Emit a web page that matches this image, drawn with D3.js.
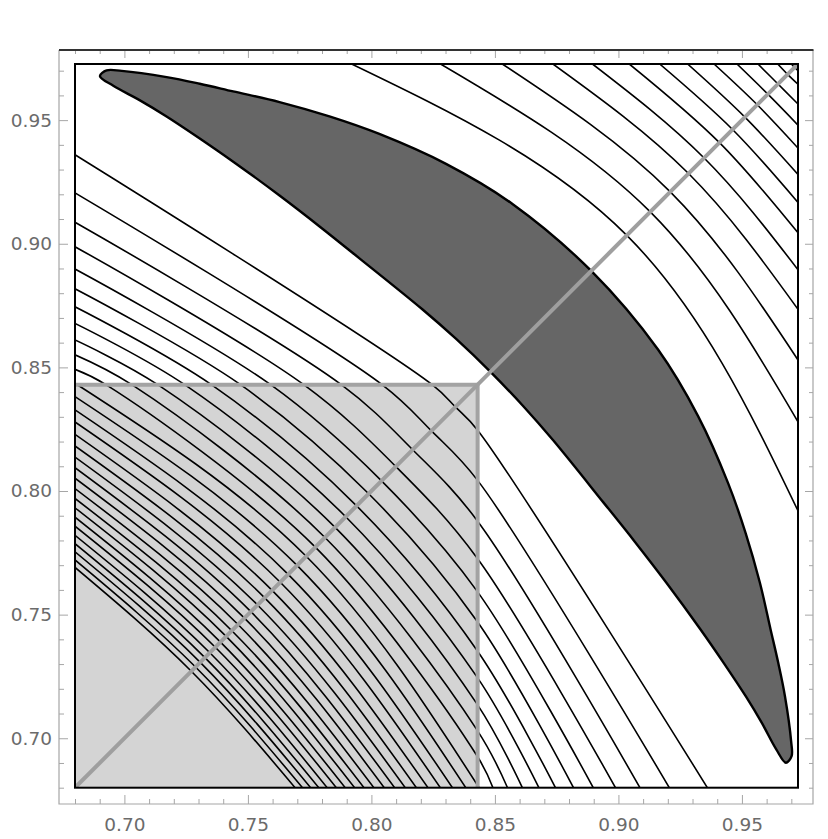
<!DOCTYPE html>
<html>
<head>
<meta charset="utf-8">
<script src="https://cdn.jsdelivr.net/npm/d3@7"></script>
<style>
  body { margin: 0; background: #fff; }
  text { font-family: "DejaVu Sans", sans-serif; }
</style>
</head>
<body>
<div id="viz"></div>
<script>
// plot range (same on both axes)
var lo = 0.68, hi = 0.9727
var majorTicks = [0.70, 0.75, 0.80, 0.85, 0.90, 0.95]
var minorTicks = [0.68, 0.69, 0.71, 0.72, 0.73, 0.74, 0.76, 0.77, 0.78, 0.79,
                  0.81, 0.82, 0.83, 0.84, 0.86, 0.87, 0.88, 0.89, 0.91, 0.92,
                  0.93, 0.94, 0.96, 0.97]

// light gray square corner
var cut = 0.843

// contours below the dark band: value on left edge (= value on bottom edge), crossing on the diagonal
var lowEdge = [0.9360, 0.9206, 0.9087, 0.8988, 0.8898, 0.8818, 0.8745, 0.8678, 0.8611, 0.8551,
               0.8492, 0.8436, 0.8382, 0.8328, 0.8279, 0.8229, 0.8182, 0.8137, 0.8094, 0.8052,
               0.8010, 0.7970, 0.7932, 0.7894, 0.7858, 0.7821, 0.7787, 0.7754, 0.7721, 0.7691]
var lowDiag = [0.8340, 0.8243, 0.8167, 0.8099, 0.8041, 0.7989, 0.7940, 0.7896, 0.7853, 0.7812,
               0.7773, 0.7736, 0.7699, 0.7663, 0.7631, 0.7598, 0.7568, 0.7539, 0.7512, 0.7486,
               0.7460, 0.7435, 0.7412, 0.7389, 0.7368, 0.7346, 0.7326, 0.7307, 0.7288, 0.7271]
// where the first ones cross the top of the gray square
var lowCut = [0.8246, 0.8043, 0.7878, 0.7726, 0.7592, 0.7470, 0.7352, 0.7244, 0.7135, 0.7030, 0.6925]

// contours beyond the band: value on top edge (= value on right edge), crossing on the diagonal
var upEdge = [0.792, 0.828, 0.853, 0.8735, 0.8895, 0.9044, 0.9167, 0.928, 0.9387, 0.948, 0.9565, 0.9645, 0.970]
var upDiag = [0.9034, 0.9129, 0.9210, 0.9284, 0.9347, 0.9409, 0.9462, 0.9512, 0.9562, 0.9605, 0.9646, 0.9685, 0.9713]

// dark band, outer edge from the upper tip to the lower tip, then inner edge back
var bandOuter = [[0.6901, 0.9678], [0.6928, 0.9701], [0.6989, 0.9699], [0.7171, 0.9674], [0.7305, 0.9647],
                 [0.7440, 0.9616], [0.7628, 0.9573], [0.7830, 0.9515], [0.8032, 0.9444], [0.8302, 0.9323],
                 [0.8571, 0.9161], [0.8890, 0.8890], [0.9161, 0.8571], [0.9323, 0.8302], [0.9444, 0.8032],
                 [0.9515, 0.7830], [0.9573, 0.7628], [0.9616, 0.7440], [0.9647, 0.7305], [0.9674, 0.7171],
                 [0.9699, 0.6989], [0.9701, 0.6928], [0.9678, 0.6901]]
var bandInner = [[0.9639, 0.6955], [0.9580, 0.7063], [0.9516, 0.7169], [0.9428, 0.7302], [0.9331, 0.7442],
                 [0.9195, 0.7628], [0.9067, 0.7794], [0.8939, 0.7954], [0.8735, 0.8206], [0.8615, 0.8343],
                 [0.8482, 0.8482],
                 [0.8343, 0.8615], [0.8206, 0.8735], [0.7954, 0.8939], [0.7794, 0.9067], [0.7628, 0.9195],
                 [0.7442, 0.9331], [0.7302, 0.9428], [0.7169, 0.9516], [0.7063, 0.9580], [0.6955, 0.9639]]

var width = 828, height = 839

var x = d3.scaleLinear().domain([lo, hi]).range([75, 798])
var y = d3.scaleLinear().domain([lo, hi]).range([787.7, 64])

var svg = d3.select('#viz').append('svg')
  .attr('width', width)
  .attr('height', height)

svg.append('defs').append('clipPath').attr('id', 'plotclip')
  .append('rect')
  .attr('x', x(lo)).attr('y', y(hi))
  .attr('width', x(hi) - x(lo)).attr('height', y(lo) - y(hi))

var plot = svg.append('g').attr('clip-path', 'url(#plotclip)')

// light gray square
plot.append('rect')
  .attr('x', x(lo)).attr('y', y(cut))
  .attr('width', x(cut) - x(lo)).attr('height', y(lo) - y(cut))
  .attr('fill', '#d4d4d4')

var lineNat = d3.line().x(d => x(d[0])).y(d => y(d[1])).curve(d3.curveNatural)
var lineCR = d3.line().x(d => x(d[0])).y(d => y(d[1])).curve(d3.curveCatmullRom.alpha(0.5))

var contours = []
lowEdge.forEach(function(a, i) {
  if (i < lowCut.length) {
    contours.push({pts: [[lo, a], [lowCut[i], cut], [lowDiag[i], lowDiag[i]], [cut, lowCut[i]], [a, lo]], cr: true})
  } else {
    contours.push({pts: [[lo, a], [lowDiag[i], lowDiag[i]], [a, lo]], cr: false})
  }
})
upEdge.forEach(function(b, i) {
  contours.push({pts: [[b, hi], [upDiag[i], upDiag[i]], [hi, b]], cr: false})
})

plot.selectAll('path.contour').data(contours)
  .enter().append('path')
  .attr('class', 'contour')
  .attr('d', d => d.cr ? lineCR(d.pts) : lineNat(d.pts))
  .attr('fill', 'none')
  .attr('stroke', '#000')
  .attr('stroke-width', 1.6)

// dark band
var bandPts = bandOuter.concat(bandInner)
plot.append('path')
  .attr('d', d3.line().x(d => x(d[0])).y(d => y(d[1])).curve(d3.curveCatmullRomClosed.alpha(0.5))(bandPts))
  .attr('fill', '#666666')
  .attr('stroke', '#000')
  .attr('stroke-width', 2.4)
  .attr('stroke-linejoin', 'round')

// gray square edges and diagonal
plot.append('path')
  .attr('d', d3.line().x(d => x(d[0])).y(d => y(d[1]))([[lo, cut], [cut, cut], [cut, lo]]))
  .attr('fill', 'none')
  .attr('stroke', '#a3a3a3')
  .attr('stroke-width', 4)

plot.append('path')
  .attr('d', d3.line().x(d => x(d[0])).y(d => y(d[1]))([[lo, lo], [hi, hi]]))
  .attr('fill', 'none')
  .attr('stroke', '#9f9f9f')
  .attr('stroke-width', 4)

// inner plot frame
svg.append('rect')
  .attr('x', x(lo)).attr('y', y(hi))
  .attr('width', x(hi) - x(lo)).attr('height', y(lo) - y(hi))
  .attr('fill', 'none')
  .attr('stroke', '#000')
  .attr('stroke-width', 2)

// outer frame with ticks
var fx0 = 59, fx1 = 813, fy0 = 50, fy1 = 804
var gray = '#a6a6a6'

function addAxis(axis, tx, ty, labels) {
  var g = svg.append('g').attr('transform', 'translate(' + tx + ',' + ty + ')').call(axis)
  g.select('.domain').remove()
  g.selectAll('line').attr('stroke', gray)
  if (!labels) g.selectAll('text').remove()
  else g.selectAll('text').attr('fill', '#6b6b6b').style('font-size', '18.5px')
  return g
}

var fmt = d3.format('.2f')
addAxis(d3.axisLeft(y).tickValues(majorTicks).tickSize(-9).tickPadding(7).tickFormat(fmt), fx0, 0, true)
addAxis(d3.axisLeft(y).tickValues(minorTicks).tickSize(-5).tickFormat(''), fx0, 0, false)
addAxis(d3.axisBottom(x).tickValues(majorTicks).tickSize(-9).tickPadding(13.5).tickFormat(fmt), 0, fy1, true)
addAxis(d3.axisBottom(x).tickValues(minorTicks).tickSize(-5).tickFormat(''), 0, fy1, false)
addAxis(d3.axisRight(y).tickValues(majorTicks).tickSize(-8).tickFormat(''), fx1, 0, false)
addAxis(d3.axisRight(y).tickValues(minorTicks).tickSize(-4).tickFormat(''), fx1, 0, false)
addAxis(d3.axisTop(x).tickValues(majorTicks).tickSize(-8).tickFormat(''), 0, fy0, false)
addAxis(d3.axisTop(x).tickValues(minorTicks).tickSize(-4).tickFormat(''), 0, fy0, false)

svg.append('path')
  .attr('d', 'M' + fx1 + ',' + fy0 + 'V' + fy1 + 'H' + fx0 + 'V' + fy0)
  .attr('fill', 'none')
  .attr('stroke', gray)
  .attr('stroke-width', 1.2)

svg.append('line')
  .attr('x1', fx0).attr('x2', fx1 + 0.5)
  .attr('y1', fy0).attr('y2', fy0)
  .attr('stroke', '#333')
  .attr('stroke-width', 2)
</script>
</body>
</html>
